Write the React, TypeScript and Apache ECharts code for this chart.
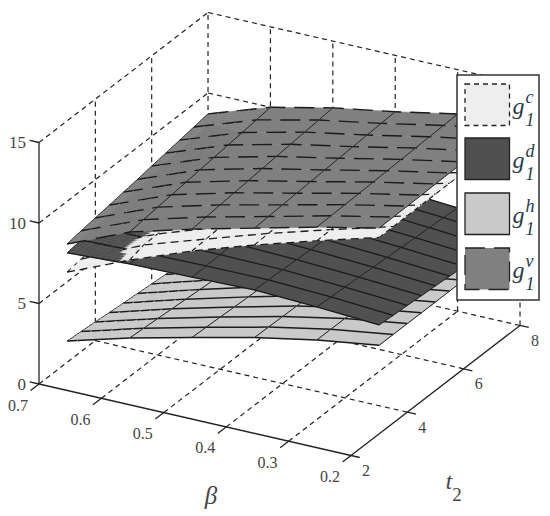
import React, { useEffect, useRef } from "react";
import * as echarts from "echarts";

const betaTicks = [0.7, 0.6, 0.5, 0.4, 0.3, 0.2];
const t2Ticks = [2, 4, 6, 8];
const zTicks = [0, 5, 10, 15];

const betas = [0.7, 0.6, 0.5, 0.4, 0.3, 0.2];
const t2s = [3, 3.5, 4, 4.5, 5, 5.5, 6, 6.5, 7, 7.5, 8];

const g1c = [
  [5.6, 7.24, 8.69, 9.95, 11.1, 12.2],
  [5.74, 7.5, 8.76, 10.0, 11.12, 12.2],
  [5.88, 7.52, 8.83, 10.04, 11.14, 12.2],
  [6.02, 7.56, 8.9, 10.09, 11.16, 12.2],
  [6.16, 7.62, 8.97, 10.13, 11.18, 12.2],
  [6.3, 7.72, 9.05, 10.18, 11.2, 12.2],
  [6.44, 7.82, 9.12, 10.22, 11.22, 12.2],
  [6.58, 7.91, 9.19, 10.27, 11.24, 12.2],
  [6.72, 8.01, 9.26, 10.31, 11.26, 12.2],
  [6.86, 8.1, 9.33, 10.36, 11.28, 12.2],
  [7.0, 8.2, 9.4, 10.4, 11.3, 12.2],
];
const g1d = [
  [6.8, 7.0, 7.07, 7.16, 7.0, 6.76],
  [6.92, 7.03, 7.09, 7.11, 6.94, 6.69],
  [7.04, 7.14, 7.12, 7.07, 6.88, 6.63],
  [7.16, 7.27, 7.14, 7.02, 6.83, 6.56],
  [7.28, 7.36, 7.16, 6.98, 6.77, 6.5],
  [7.4, 7.45, 7.19, 6.93, 6.71, 6.43],
  [7.52, 7.54, 7.21, 6.88, 6.65, 6.36],
  [7.64, 7.63, 7.23, 6.84, 6.59, 6.3],
  [7.76, 7.72, 7.25, 6.79, 6.54, 6.23],
  [7.88, 7.81, 7.28, 6.75, 6.48, 6.17],
  [8.0, 7.9, 7.3, 6.7, 6.42, 6.1],
];
const g1h = [
  [1.32, 2.4, 3.32, 4.2, 4.94, 5.5],
  [1.24, 2.33, 3.28, 4.18, 4.94, 5.5],
  [1.16, 2.26, 3.24, 4.16, 4.93, 5.5],
  [1.07, 2.19, 3.19, 4.14, 4.93, 5.5],
  [0.99, 2.12, 3.15, 4.12, 4.92, 5.5],
  [0.91, 2.05, 3.11, 4.1, 4.92, 5.5],
  [0.83, 1.98, 3.07, 4.08, 4.92, 5.5],
  [0.75, 1.91, 3.03, 4.06, 4.91, 5.5],
  [0.66, 1.84, 2.98, 4.04, 4.91, 5.5],
  [0.58, 1.77, 2.94, 4.02, 4.9, 5.5],
  [0.5, 1.7, 2.9, 4.0, 4.9, 5.5],
];
const g1v = [
  [7.35, 8.98, 10.05, 11.0, 11.95, 12.78],
  [7.5, 9.08, 10.13, 11.05, 11.98, 12.79],
  [7.62, 9.18, 10.21, 11.1, 12.0, 12.8],
  [7.75, 9.28, 10.29, 11.15, 12.03, 12.81],
  [7.88, 9.38, 10.37, 11.2, 12.06, 12.83],
  [8.0, 9.48, 10.45, 11.25, 12.09, 12.84],
  [8.15, 9.58, 10.53, 11.3, 12.12, 12.85],
  [8.28, 9.68, 10.61, 11.35, 12.15, 12.86],
  [8.42, 9.78, 10.69, 11.4, 12.18, 12.87],
  [8.56, 9.89, 10.77, 11.45, 12.21, 12.88],
  [8.7, 10.0, 10.85, 11.5, 12.25, 12.9],
];

const legendKeys = ["c", "d", "h", "v"];

type P = [number, number];

const project = (b: number, t: number, z: number): P => [
  39 + 624 * (0.7 - b) + 28.17 * (t - 2),
  384 + 143 * (0.7 - b) - 21.67 * (t - 2) - 16.1 * z,
];

const surfaces = [
  { key: "c", z: g1c, fill: "#eeeeee", rowDash: [8, 5], colDash: [5, 4], rowW: 1.3, colW: 1.1 },
  { key: "d", z: g1d, fill: "#505050", rowDash: null, colDash: null, rowW: 1.3, colW: 0.9 },
  { key: "h", z: g1h, fill: "#c9c9c9", rowDash: null, colDash: null, rowW: 1.5, colW: 1 },
  { key: "v", z: g1v, fill: "#808080", rowDash: [20, 9], colDash: null, rowW: 1.4, colW: 0.9 },
];

type Seg = { a: P; b: P; dash: number[] | null; offset: number; width: number; color: string };
type Cell = { fill: string; pts: P[]; segs: Seg[] };

const dist = (a: P, b: P) => Math.hypot(a[0] - b[0], a[1] - b[1]);

function buildCells(): Cell[] {
  const nB = betas.length;
  const nT = t2s.length;
  const positions: { i: number; j: number; d: number }[] = [];
  for (let j = 0; j < nT - 1; j++) {
    for (let i = 0; i < nB - 1; i++) {
      const c = project((betas[i] + betas[i + 1]) / 2, (t2s[j] + t2s[j + 1]) / 2, 0);
      positions.push({ i, j, d: c[1] });
    }
  }
  positions.sort((a, b) => a.d - b.d);
  const cells: Cell[] = [];
  const rowLen = surfaces.map((s) => {
    return s.z.map((row, j) => {
      const out = [0];
      for (let i = 0; i < nB - 1; i++) {
        out.push(out[i] + dist(project(betas[i], t2s[j], row[i]), project(betas[i + 1], t2s[j], row[i + 1])));
      }
      return out;
    });
  });
  const colLen = surfaces.map((s) => {
    return betas.map((b, i) => {
      const out = [0];
      for (let j = 0; j < nT - 1; j++) {
        out.push(out[j] + dist(project(b, t2s[j], s.z[j][i]), project(b, t2s[j + 1], s.z[j + 1][i])));
      }
      return out;
    });
  });
  for (const { i, j } of positions) {
    let crossing = false;
    for (let a = 0; a < surfaces.length; a++) {
      for (let b = a + 1; b < surfaces.length; b++) {
        const diffs = [
          surfaces[a].z[j][i] - surfaces[b].z[j][i],
          surfaces[a].z[j][i + 1] - surfaces[b].z[j][i + 1],
          surfaces[a].z[j + 1][i] - surfaces[b].z[j + 1][i],
          surfaces[a].z[j + 1][i + 1] - surfaces[b].z[j + 1][i + 1],
        ];
        if (Math.min(...diffs) < 0 && Math.max(...diffs) > 0) crossing = true;
      }
    }
    const n = crossing ? 6 : 1;
    for (let l = n - 1; l >= 0; l--) {
      for (let k = 0; k < n; k++) {
        const u0 = k / n, u1 = (k + 1) / n, v0 = l / n, v1 = (l + 1) / n;
        const b0 = betas[i] + (betas[i + 1] - betas[i]) * u0;
        const b1 = betas[i] + (betas[i + 1] - betas[i]) * u1;
        const t0 = t2s[j] + (t2s[j + 1] - t2s[j]) * v0;
        const t1 = t2s[j] + (t2s[j + 1] - t2s[j]) * v1;
        const ordered = surfaces
          .map((s, si) => {
            const zAt = (u: number, v: number) =>
              s.z[j][i] * (1 - u) * (1 - v) + s.z[j][i + 1] * u * (1 - v) + s.z[j + 1][i] * (1 - u) * v + s.z[j + 1][i + 1] * u * v;
            return { s, si, zAt, m: zAt((u0 + u1) / 2, (v0 + v1) / 2) };
          })
          .sort((a, b) => a.m - b.m);
        for (const { s, si, zAt } of ordered) {
          const p00 = project(b0, t0, zAt(u0, v0));
          const p10 = project(b1, t0, zAt(u1, v0));
          const p11 = project(b1, t1, zAt(u1, v1));
          const p01 = project(b0, t1, zAt(u0, v1));
          const segs: Seg[] = [];
          const rowSeg = (a: P, b: P, jj: number, u: number) => {
            const start = rowLen[si][jj][i];
            const len = rowLen[si][jj][i + 1] - start;
            segs.push({ a, b, dash: s.rowDash, offset: start + u * len, width: s.rowW, color: "#1a1a1a" });
          };
          const colSeg = (a: P, b: P, ii: number, v: number) => {
            const start = colLen[si][ii][j];
            const len = colLen[si][ii][j + 1] - start;
            segs.push({ a, b, dash: s.colDash, offset: start + v * len, width: s.colW, color: "#1a1a1a" });
          };
          if (l === n - 1) rowSeg(p01, p11, j + 1, u0);
          if (k === 0) colSeg(p00, p01, i, v0);
          if (j === 0 && l === 0) rowSeg(p00, p10, 0, u0);
          if (i === nB - 2 && k === n - 1) colSeg(p10, p11, i + 1, v0);
          cells.push({ fill: s.fill, pts: [p00, p10, p11, p01], segs });
        }
      }
    }
  }
  return cells;
}

function buildFrame(): Seg[] {
  const segs: Seg[] = [];
  const dashed = (a: P, b: P) => segs.push({ a, b, dash: [5, 4], offset: 0, width: 1.2, color: "#222222" });
  const solid = (a: P, b: P) => segs.push({ a, b, dash: null, offset: 0, width: 1.3, color: "#222222" });
  const bMax = betaTicks[0];
  const bMin = betaTicks[betaTicks.length - 1];
  const tMin = t2Ticks[0];
  const tMax = t2Ticks[t2Ticks.length - 1];
  const zMax = zTicks[zTicks.length - 1];
  for (const b of betaTicks) {
    if (b !== bMin) dashed(project(b, tMin, 0), project(b, tMax, 0));
    if (b !== bMax) dashed(project(b, tMax, 0), project(b, tMax, zMax));
    solid(project(b, tMin, 0), project(b, tMin - 0.3, 0));
  }
  for (const t of t2Ticks) {
    if (t !== tMin) {
      dashed(project(bMax, t, 0), project(bMin, t, 0));
      dashed(project(bMax, t, 0), project(bMax, t, zMax));
    }
    solid(project(bMin, t, 0), project(bMin - 0.014, t, 0));
  }
  for (const z of zTicks) {
    if (z !== 0) {
      dashed(project(bMax, tMin, z), project(bMax, tMax, z));
      dashed(project(bMax, tMax, z), project(bMin, tMax, z));
    }
    solid(project(bMax, tMin, z), project(bMax + 0.015, tMin, z));
  }
  solid(project(bMax, tMin, 0), project(bMax, tMin, zMax));
  solid(project(bMax, tMin, 0), project(bMin, tMin, 0));
  solid(project(bMin, tMin, 0), project(bMin, tMax, 0));
  return segs;
}

type Lab = { x: number; y: number; text: string; font: string; align: string };

function buildLabels(): Lab[] {
  const tickFont = '16px "Liberation Serif"';
  const labs: Lab[] = [];
  betaTicks.forEach((b) => {
    const p = project(b, t2Ticks[0], 0);
    labs.push({ x: p[0] - 21, y: p[1] + 21, text: b.toFixed(1), font: tickFont, align: "center" });
  });
  t2Ticks.forEach((t) => {
    const p = project(betaTicks[betaTicks.length - 1], t, 0);
    labs.push({ x: p[0] + 15, y: p[1] + 15, text: String(t), font: tickFont, align: "center" });
  });
  zTicks.forEach((z) => {
    const p = project(betaTicks[0], t2Ticks[0], z);
    labs.push({ x: p[0] - 13, y: p[1], text: String(z), font: '17px "Liberation Serif"', align: "right" });
  });
  labs.push({ x: 211, y: 495, text: "β", font: 'italic 25px "Liberation Serif"', align: "center" });
  labs.push({ x: 449, y: 481, text: "t", font: 'italic 23px "Liberation Serif"', align: "center" });
  labs.push({ x: 457, y: 494, text: "2", font: '19px "Liberation Serif"', align: "center" });
  return labs;
}

const cells = buildCells();
const frame = buildFrame();
const labels = buildLabels();

function legendGraphics() {
  const rows = [
    { top: 84, fill: "#eeeeee", dash: [5, 4], stroke: "#222222" },
    { top: 138, fill: "#505050", dash: null, stroke: "#222222" },
    { top: 193, fill: "#c9c9c9", dash: null, stroke: "#222222" },
    { top: 248, fill: "#808080", dash: [20, 9], stroke: "#222222" },
  ];
  const els: any[] = [
    { type: "rect", z: 100, shape: { x: 457, y: 75, width: 82, height: 225 }, style: { fill: "#ffffff", stroke: "#333333", lineWidth: 1.5 } },
  ];
  rows.forEach((r, i) => {
    els.push({
      type: "rect", z: 101, shape: { x: 465, y: r.top, width: 44.5, height: 41.5 },
      style: { fill: r.fill, stroke: r.stroke, lineWidth: 1.3, lineDash: r.dash || undefined },
    });
    const cy = r.top + 21;
    const common = { fill: "#2b3a48", verticalAlign: "middle" };
    els.push({ type: "text", z: 102, style: { ...common, align: "center", x: 518.5, y: cy + 1, text: "g", font: 'italic 24px "Liberation Serif"' } });
    els.push({ type: "text", z: 102, style: { ...common, align: "left", x: 525.5, y: cy - 8, text: legendKeys[i], font: 'italic 18px "Liberation Serif"' } });
    els.push({ type: "text", z: 102, style: { ...common, align: "left", x: 525.5, y: cy + 15, text: "1", font: 'italic 18px "Liberation Serif"' } });
  });
  return els;
}

export default function App() {
  const ref = useRef<HTMLDivElement>(null);
  useEffect(() => {
    const chart = echarts.init(ref.current!, undefined, { renderer: "svg" });
    const lineEl = (api: any, s: Seg) => {
      const a = api.coord(s.a);
      const b = api.coord(s.b);
      return {
        type: "line",
        shape: { x1: a[0], y1: a[1], x2: b[0], y2: b[1] },
        style: { stroke: s.color, lineWidth: s.width, lineDash: s.dash || undefined, lineDashOffset: s.offset, fill: null },
      };
    };
    chart.setOption({
      animation: false,
      backgroundColor: "#ffffff",
      grid: { left: 0, top: 0, right: 0, bottom: 0, show: false },
      xAxis: { type: "value", min: 0, max: 550, show: false },
      yAxis: { type: "value", min: 0, max: 516, inverse: true, show: false },
      graphic: { elements: legendGraphics() },
      series: [
        {
          type: "custom", z: 2, silent: true, progressive: 0, clip: false,
          data: frame.map((_, i) => [i, 0]),
          renderItem: (_: any, api: any) => lineEl(api, frame[api.value(0)]),
        },
        {
          type: "custom", z: 3, silent: true, progressive: 0, clip: false,
          data: cells.map((_, i) => [i, 0]),
          renderItem: (_: any, api: any) => {
            const c = cells[api.value(0)];
            return {
              type: "group",
              children: [
                {
                  type: "polygon",
                  shape: { points: c.pts.map((p) => api.coord(p)) },
                  style: { fill: c.fill, stroke: c.fill, lineWidth: 0.5 },
                },
                ...c.segs.map((s) => lineEl(api, s)),
              ],
            };
          },
        },
        {
          type: "custom", z: 4, silent: true, progressive: 0, clip: false,
          data: labels.map((_, i) => [i, 0]),
          renderItem: (_: any, api: any) => {
            const l = labels[api.value(0)];
            const p = api.coord([l.x, l.y]);
            return {
              type: "text",
              style: { x: p[0], y: p[1], text: l.text, font: l.font, fill: "#444444", align: l.align, verticalAlign: "middle" },
            };
          },
        },
      ],
    });
    return () => chart.dispose();
  }, []);
  return <div ref={ref} style={{ position: "absolute", left: 0, top: 0, width: 550, height: 516 }} />;
}
